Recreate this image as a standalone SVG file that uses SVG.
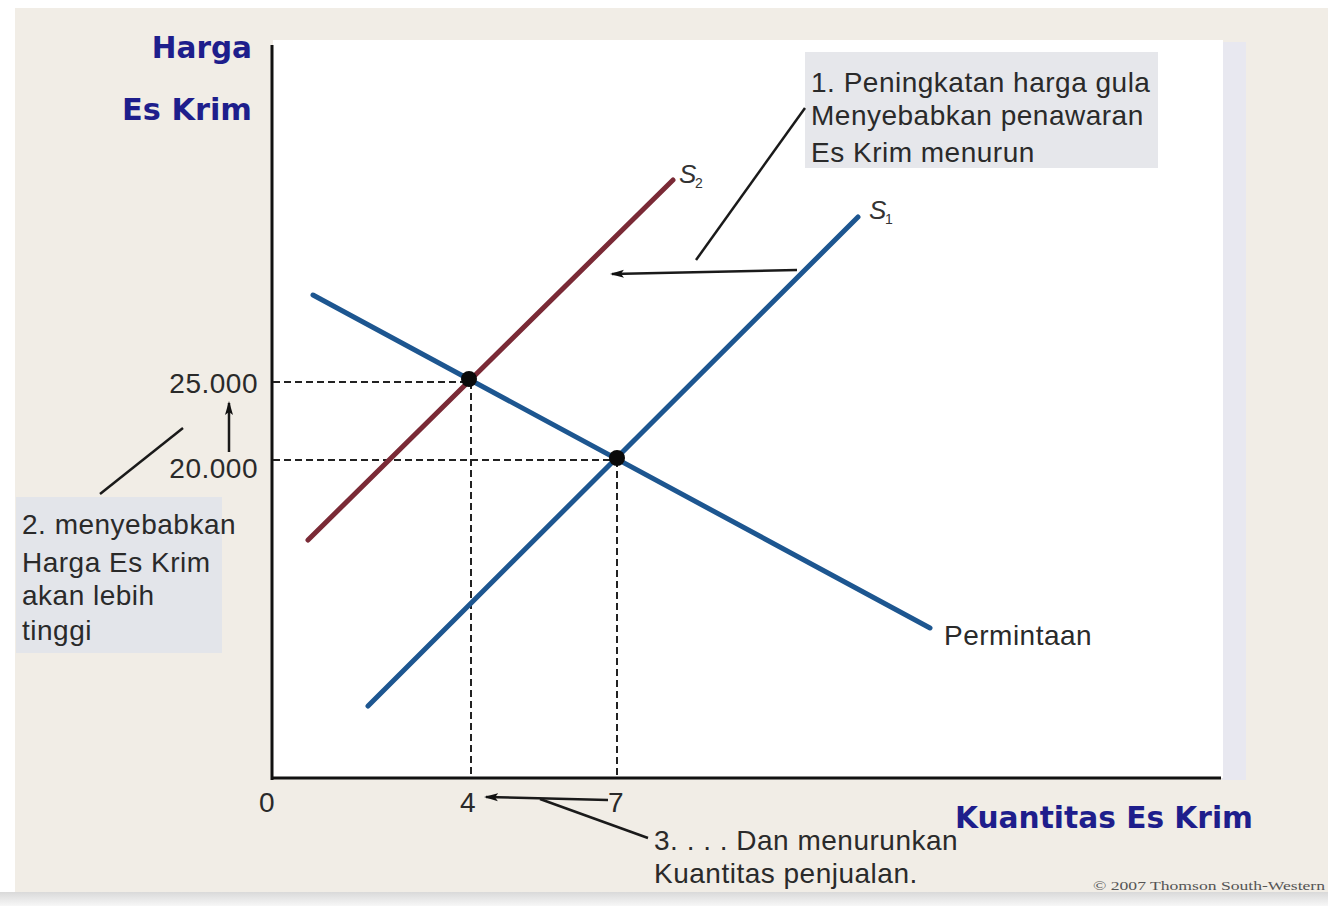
<svg xmlns="http://www.w3.org/2000/svg" width="1328" height="920" viewBox="0 0 1328 920">
<defs>
<linearGradient id="band" x1="0" y1="0" x2="0" y2="1">
<stop offset="0" stop-color="#d9d9d9"/>
<stop offset="1" stop-color="#f7f7f7"/>
</linearGradient>
<marker id="ah" viewBox="0 0 14 10" refX="12" refY="5" markerWidth="14" markerHeight="10" markerUnits="userSpaceOnUse" orient="auto">
<path d="M0,1 L14,5 L0,9 L3,5 Z" fill="#111"/>
</marker>
</defs>
<style>
.t{font-family:"Liberation Sans",Arial,sans-serif;font-size:28px;fill:#2a2a2a;letter-spacing:0.5px}
.ax{font-family:"DejaVu Sans",Verdana,sans-serif;font-weight:bold;font-size:29.5px;fill:#1e1e8c}
.lbl{font-family:"Liberation Sans",Arial,sans-serif;font-style:italic;font-size:26px;fill:#333}
.sub{font-family:"Liberation Sans",Arial,sans-serif;font-size:14px;fill:#333}
.dash{stroke:#222;stroke-width:2;stroke-dasharray:7,4;fill:none}
.lead{stroke:#1a1a1a;stroke-width:2.5;fill:none}
.blue{stroke:#1d5690;stroke-width:5;fill:none;stroke-linecap:round}
.red{stroke:#7a2a36;stroke-width:5;fill:none;stroke-linecap:round}
</style>
<rect x="0" y="0" width="1328" height="920" fill="#ffffff"/>
<rect x="15" y="8" width="1313" height="886" fill="#f1ede6"/>
<rect x="0" y="892" width="1328" height="14" fill="url(#band)"/>
<rect x="1222" y="42" width="24" height="738" fill="#e8e8f0"/>
<rect x="273" y="40" width="950" height="738" fill="#ffffff"/>

<g id="axes">
<line x1="272" y1="45" x2="272" y2="780" stroke="#111" stroke-width="3"/>
<line x1="271" y1="778" x2="1221" y2="778" stroke="#111" stroke-width="3"/>
<text class="ax" x="252" y="58" text-anchor="end">Harga</text>
<text class="ax" x="252" y="120" text-anchor="end" textLength="130" lengthAdjust="spacingAndGlyphs">Es Krim</text>
<text class="ax" x="1253" y="828" text-anchor="end" textLength="298" lengthAdjust="spacingAndGlyphs">Kuantitas Es Krim</text>
<text class="t" x="267" y="812" text-anchor="middle">0</text>
<text class="t" x="468" y="812" text-anchor="middle">4</text>
<text class="t" x="616" y="812" text-anchor="middle">7</text>
<text class="t" x="258" y="393" text-anchor="end">25.000</text>
<text class="t" x="258" y="478" text-anchor="end">20.000</text>
</g>

<g id="guides">
<line class="dash" x1="273" y1="382" x2="469" y2="382"/>
<line class="dash" x1="471" y1="382" x2="471" y2="777"/>
<line class="dash" x1="273" y1="460" x2="617" y2="460"/>
<line class="dash" x1="617" y1="460" x2="617" y2="777"/>
</g>

<g id="demand">
<line class="blue" x1="313" y1="295" x2="930" y2="628"/>
<text class="t" x="944" y="645">Permintaan</text>
</g>
<g id="s1">
<line class="blue" x1="368" y1="706" x2="858" y2="217"/>
<text class="lbl" x="869" y="219">S</text><text class="sub" x="885" y="224">1</text>
</g>
<g id="s2">
<line class="red" x1="308" y1="540" x2="673" y2="180"/>
<text class="lbl" x="679" y="183">S</text><text class="sub" x="695" y="188">2</text>
</g>
<g id="points">
<circle cx="469" cy="379" r="8" fill="#0a0a0a"/>
<circle cx="617" cy="458" r="8" fill="#0a0a0a"/>
</g>

<g id="note1">
<rect x="805" y="52" width="353" height="116" fill="#e6e7eb"/>
<text class="t" x="811" y="92">1. Peningkatan harga gula</text>
<text class="t" x="811" y="125">Menyebabkan penawaran</text>
<text class="t" x="811" y="162">Es Krim menurun</text>
</g>
<g id="note2">
<rect x="16" y="497" width="206" height="156" fill="#e3e5ea"/>
<text class="t" x="22" y="534">2. menyebabkan</text>
<text class="t" x="22" y="572">Harga Es Krim</text>
<text class="t" x="22" y="605">akan lebih</text>
<text class="t" x="22" y="640">tinggi</text>
</g>
<g id="note3">
<text class="t" x="654" y="850">3. . . . Dan menurunkan</text>
<text class="t" x="654" y="883">Kuantitas penjualan.</text>
</g>

<g id="connectors">
<line class="lead" x1="805" y1="108" x2="696" y2="260"/>
<line class="lead" x1="797" y1="270" x2="612" y2="274" marker-end="url(#ah)"/>
<line class="lead" x1="100" y1="494" x2="183" y2="428"/>
<line class="lead" x1="229" y1="452" x2="229" y2="403" stroke-width="3" marker-end="url(#ah)"/>
<line class="lead" x1="608" y1="800" x2="486" y2="797" marker-end="url(#ah)"/>
<line class="lead" x1="540" y1="799" x2="648" y2="838"/>
</g>

<text x="1325" y="890" text-anchor="end" font-family="Liberation Serif,serif" font-size="12" fill="#555" textLength="232" lengthAdjust="spacingAndGlyphs">© 2007 Thomson South-Western</text>
</svg>
